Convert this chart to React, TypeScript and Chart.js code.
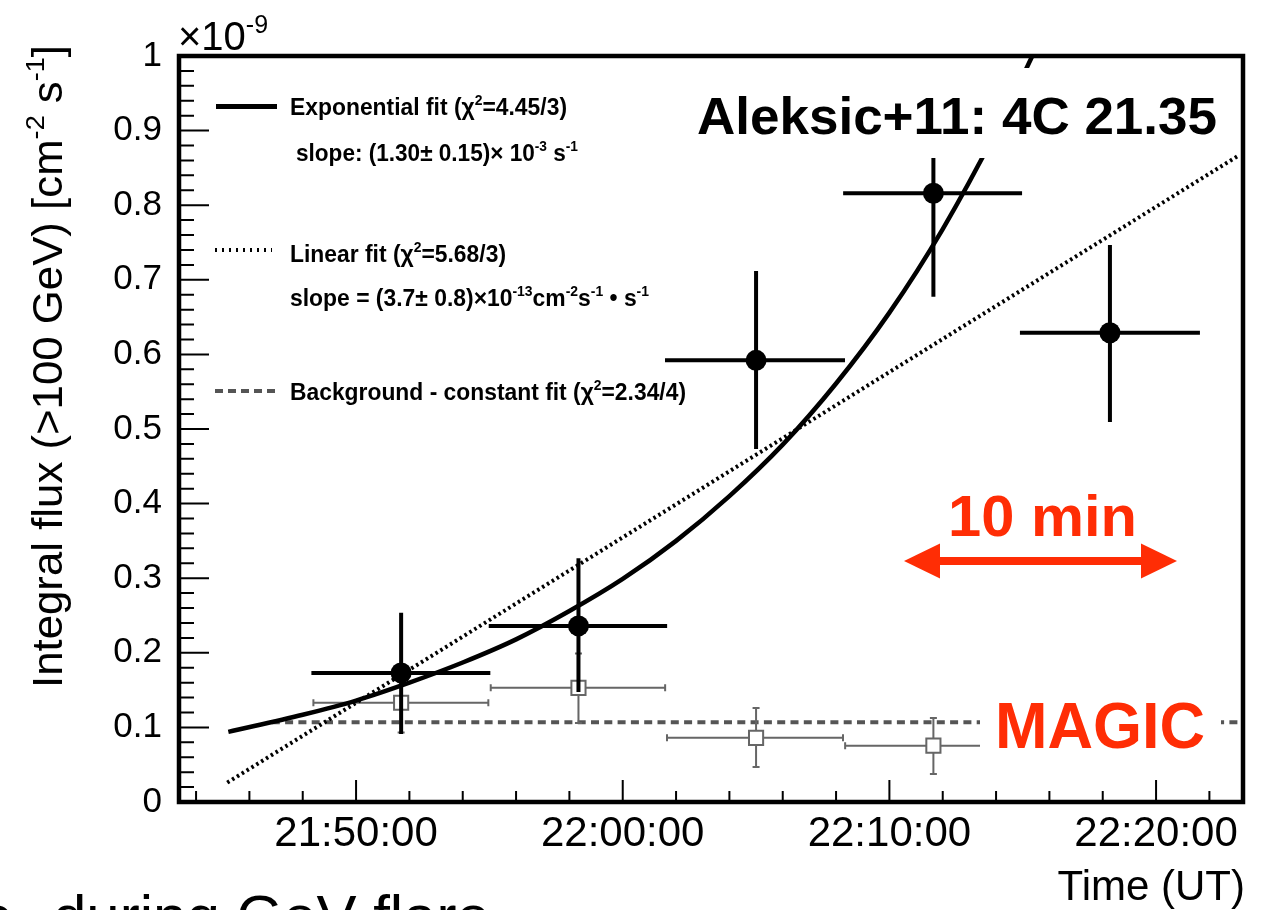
import React, { useEffect, useRef } from 'react';
import { Chart, registerables } from 'chart.js';

Chart.register(...registerables);

const FAMILY = '"Liberation Sans", Arial, Helvetica, sans-serif';
const RED = '#ff2d05';

// Time axis in minutes after 21:00:00 UT, flux in units of 1e-9 cm^-2 s^-1
const X_MIN = 43.36;
const X_MAX = 83.26;
const Y_MIN = 0;
const Y_MAX = 1;

const xMajorTicks = [50, 60, 70, 80];
const xTickLabels = ['21:50:00', '22:00:00', '22:10:00', '22:20:00'];
const yTickValues = [0, 0.1, 0.2, 0.3, 0.4, 0.5, 0.6, 0.7, 0.8, 0.9, 1];
const yTickLabels = ['0', '0.1', '0.2', '0.3', '0.4', '0.5', '0.6', '0.7', '0.8', '0.9', '1'];
const X_MINOR_STEP = 2;
const Y_MINOR_STEP = 0.02;

// MAGIC flux points (filled circles)
const fluxTimes = [51.69, 58.34, 65.0, 71.65, 78.27];
const fluxBinLow = [48.4, 55.05, 61.66, 68.34, 74.97];
const fluxBinHigh = [54.96, 61.59, 68.26, 74.9, 81.57];
const fluxValues = [0.173, 0.236, 0.592, 0.816, 0.629];
const fluxUpper = [0.251, 0.324, 0.709, 0.862, 0.744];
const fluxLower = [0.094, 0.15, 0.476, 0.68, 0.512];

// Background points (open squares)
const bkgTimes = [51.69, 58.34, 65.0, 71.65];
const bkgBinLow = [48.4, 55.05, 61.66, 68.34];
const bkgBinHigh = [54.96, 61.59, 68.26, 74.9];
const bkgValues = [0.133, 0.153, 0.086, 0.0755];
const bkgUpper = [0.173, 0.199, 0.126, 0.1126];
const bkgLower = [0.093, 0.106, 0.047, 0.0375];

// Fit curves
const expFitTimes = [45.21, 48, 50, 52, 54, 56, 58, 60, 62, 64, 66, 68, 70, 72, 74, 75.4];
const expFitValues = [0.094, 0.117, 0.136, 0.16, 0.187, 0.218, 0.256, 0.299, 0.35, 0.41, 0.479, 0.561, 0.656, 0.768, 0.899, 1.003];
const linFitTimes = [45.17, 83.07];
const linFitValues = [0.026, 0.866];
const constFitTimes = [46.84, 83.2];
const constFitValues = [0.107, 0.107];

type Seg = { t: string; sup?: boolean };

function drawRich(
  ctx: CanvasRenderingContext2D,
  segs: Seg[],
  x: number,
  y: number,
  size: number,
  weight: string,
  targetWidth?: number
) {
  const fMain = `${weight} ${size}px ${FAMILY}`;
  const fSup = `${weight} ${Math.round(size * 0.62)}px ${FAMILY}`;
  let w = 0;
  for (const s of segs) {
    ctx.font = s.sup ? fSup : fMain;
    w += ctx.measureText(s.t).width;
  }
  const sx = targetWidth ? targetWidth / w : 1;
  ctx.save();
  ctx.translate(x, y);
  ctx.scale(sx, 1);
  ctx.textAlign = 'left';
  ctx.textBaseline = 'alphabetic';
  let cx = 0;
  for (const s of segs) {
    ctx.font = s.sup ? fSup : fMain;
    ctx.fillText(s.t, cx, s.sup ? -size * 0.42 : 0);
    cx += ctx.measureText(s.t).width;
  }
  ctx.restore();
}

function drawBars(
  chart: any,
  times: number[],
  lo: number[],
  hi: number[],
  vals: number[],
  up: number[],
  dn: number[],
  color: string,
  width: number,
  cap: number
) {
  const { ctx, chartArea } = chart;
  const xs = chart.scales.x;
  const ys = chart.scales.y;
  ctx.save();
  ctx.beginPath();
  ctx.rect(chartArea.left, chartArea.top, chartArea.right - chartArea.left, chartArea.bottom - chartArea.top);
  ctx.clip();
  ctx.strokeStyle = color;
  ctx.lineWidth = width;
  ctx.lineCap = 'butt';
  for (let i = 0; i < times.length; i++) {
    const xc = xs.getPixelForValue(times[i]);
    const xl = xs.getPixelForValue(lo[i]);
    const xh = xs.getPixelForValue(hi[i]);
    const yc = ys.getPixelForValue(vals[i]);
    const yu = ys.getPixelForValue(up[i]);
    const yd = ys.getPixelForValue(dn[i]);
    ctx.beginPath();
    ctx.moveTo(xl, yc);
    ctx.lineTo(xh, yc);
    ctx.moveTo(xc, yu);
    ctx.lineTo(xc, yd);
    if (cap > 0) {
      ctx.moveTo(xl, yc - cap);
      ctx.lineTo(xl, yc + cap);
      ctx.moveTo(xh, yc - cap);
      ctx.lineTo(xh, yc + cap);
      ctx.moveTo(xc - cap, yu);
      ctx.lineTo(xc + cap, yu);
      ctx.moveTo(xc - cap, yd);
      ctx.lineTo(xc + cap, yd);
    }
    ctx.stroke();
  }
  ctx.restore();
}

const errorBarPlugin = {
  id: 'errorBars',
  beforeDatasetDraw(chart: any, args: any) {
    if (args.index === 2) {
      drawBars(chart, fluxTimes, fluxBinLow, fluxBinHigh, fluxValues, fluxUpper, fluxLower, '#000', 4, 2);
    } else if (args.index === 3) {
      drawBars(chart, bkgTimes, bkgBinLow, bkgBinHigh, bkgValues, bkgUpper, bkgLower, '#666', 2, 3.5);
    }
  },
};

const overlayPlugin = {
  id: 'overlay',
  afterDatasetsDraw(chart: any) {
    const ctx: CanvasRenderingContext2D = chart.ctx;
    ctx.save();
    // white boxes behind the labels
    ctx.fillStyle = '#fff';
    ctx.fillRect(690, 68, 535, 90);
    ctx.fillRect(980, 690, 241, 75);

    // title
    ctx.fillStyle = '#000';
    drawRich(ctx, [{ t: 'Aleksic+11: 4C 21.35' }], 697, 134, 52, 'bold', 520);

    // MAGIC label
    ctx.fillStyle = RED;
    drawRich(ctx, [{ t: 'MAGIC' }], 995, 748, 65, 'bold', 210);

    // 10 min label and arrow
    drawRich(ctx, [{ t: '10 min' }], 948, 536, 58, 'bold', 189);
    const ay = 561;
    ctx.fillRect(936, ay - 4, 210, 8);
    ctx.beginPath();
    ctx.moveTo(904, ay);
    ctx.lineTo(940, ay - 17.5);
    ctx.lineTo(940, ay + 17.5);
    ctx.closePath();
    ctx.fill();
    ctx.beginPath();
    ctx.moveTo(1177, ay);
    ctx.lineTo(1141, ay - 17.5);
    ctx.lineTo(1141, ay + 17.5);
    ctx.closePath();
    ctx.fill();

    // legend
    ctx.fillStyle = '#000';
    ctx.strokeStyle = '#000';
    ctx.lineWidth = 5;
    ctx.beginPath();
    ctx.moveTo(216, 106.5);
    ctx.lineTo(277, 106.5);
    ctx.stroke();
    drawRich(ctx, [{ t: 'Exponential fit (χ' }, { t: '2', sup: true }, { t: '=4.45/3)' }], 290, 115, 23, 'bold', 277);
    drawRich(
      ctx,
      [{ t: 'slope: (1.30± 0.15)× 10' }, { t: '-3', sup: true }, { t: ' s' }, { t: '-1', sup: true }],
      296,
      161,
      23,
      'bold',
      282
    );

    ctx.lineWidth = 4;
    ctx.setLineDash([2, 5]);
    ctx.beginPath();
    ctx.moveTo(215, 250);
    ctx.lineTo(272, 250);
    ctx.stroke();
    drawRich(ctx, [{ t: 'Linear fit (χ' }, { t: '2', sup: true }, { t: '=5.68/3)' }], 290, 262, 23, 'bold', 216);
    drawRich(
      ctx,
      [
        { t: 'slope = (3.7± 0.8)×10' },
        { t: '-13', sup: true },
        { t: 'cm' },
        { t: '-2', sup: true },
        { t: 's' },
        { t: '-1', sup: true },
        { t: ' • s' },
        { t: '-1', sup: true },
      ],
      290,
      306,
      23,
      'bold',
      359
    );

    ctx.strokeStyle = '#555';
    ctx.setLineDash([8, 5]);
    ctx.beginPath();
    ctx.moveTo(215, 391);
    ctx.lineTo(275, 391);
    ctx.stroke();
    ctx.setLineDash([]);
    drawRich(
      ctx,
      [{ t: 'Background - constant fit (χ' }, { t: '2', sup: true }, { t: '=2.34/4)' }],
      290,
      400,
      23,
      'bold',
      396
    );
    ctx.restore();
  },
  afterDraw(chart: any) {
    const ctx: CanvasRenderingContext2D = chart.ctx;
    const { left, right, top, bottom } = chart.chartArea;
    const xs = chart.scales.x;
    const ys = chart.scales.y;
    ctx.save();
    ctx.strokeStyle = '#000';
    // ticks
    ctx.lineWidth = 2;
    ctx.beginPath();
    for (let v = Y_MIN; v <= Y_MAX + 1e-9; v += Y_MINOR_STEP) {
      const py = ys.getPixelForValue(v);
      const isMajor = Math.abs(v * 10 - Math.round(v * 10)) < 1e-6;
      ctx.moveTo(left, py);
      ctx.lineTo(left + (isMajor ? 30 : 15), py);
    }
    const firstMinor = Math.ceil(X_MIN / X_MINOR_STEP) * X_MINOR_STEP;
    for (let v = firstMinor; v <= X_MAX; v += X_MINOR_STEP) {
      const px = xs.getPixelForValue(v);
      const isMajor = v % 10 === 0;
      ctx.moveTo(px, bottom);
      ctx.lineTo(px, bottom - (isMajor ? 22 : 11));
    }
    ctx.stroke();
    // frame
    ctx.lineWidth = 4.5;
    ctx.strokeRect(left, top, right - left, bottom - top);

    // exponent
    ctx.fillStyle = '#000';
    drawRich(ctx, [{ t: '×10' }, { t: '-9', sup: true }], 178, 50, 40, 'normal');

    // axis titles
    ctx.save();
    ctx.translate(62, 688);
    ctx.rotate(-Math.PI / 2);
    drawRich(
      ctx,
      [{ t: 'Integral flux (>100 GeV) [cm' }, { t: '-2', sup: true }, { t: ' s' }, { t: '-1', sup: true }, { t: ']' }],
      0,
      0,
      42,
      'normal',
      643
    );
    ctx.restore();

    ctx.font = `42px ${FAMILY}`;
    ctx.textAlign = 'right';
    ctx.textBaseline = 'alphabetic';
    ctx.fillText('Time (UT)', 1245, 900);

    // slide text cut by the picture edge
    ctx.font = `60px ${FAMILY}`;
    ctx.textAlign = 'right';
    ctx.fillText('curve', 13, 937);
    ctx.textAlign = 'left';
    ctx.fillText('during GeV flare', 53, 937);
    ctx.restore();
  },
};

export default function App() {
  const ref = useRef<HTMLCanvasElement>(null);
  useEffect(() => {
    const canvas = ref.current;
    if (!canvas) return;
    const chart = new Chart(canvas, {
      type: 'scatter',
      data: {
        datasets: [
          {
            label: 'Exponential fit',
            data: expFitTimes.map((t, i) => ({ x: t, y: expFitValues[i] })),
            showLine: true,
            borderColor: '#000',
            borderWidth: 4.5,
            pointRadius: 0,
            pointHoverRadius: 0,
            cubicInterpolationMode: 'monotone',
          },
          {
            label: 'Linear fit',
            data: linFitTimes.map((t, i) => ({ x: t, y: linFitValues[i] })),
            showLine: true,
            borderColor: '#000',
            borderWidth: 4,
            borderDash: [2.5, 3.2],
            pointRadius: 0,
            pointHoverRadius: 0,
          },
          {
            label: 'Integral flux',
            data: fluxTimes.map((t, i) => ({ x: t, y: fluxValues[i] })),
            pointStyle: 'circle',
            pointRadius: 10.5,
            pointHoverRadius: 10.5,
            backgroundColor: '#000',
            borderWidth: 0,
          },
          {
            label: 'Background',
            data: bkgTimes.map((t, i) => ({ x: t, y: bkgValues[i] })),
            pointStyle: 'rect',
            pointRadius: 10,
            pointHoverRadius: 10,
            backgroundColor: '#fff',
            borderColor: '#666',
            borderWidth: 2,
          },
          {
            label: 'Background - constant fit',
            data: constFitTimes.map((t, i) => ({ x: t, y: constFitValues[i] })),
            showLine: true,
            borderColor: '#555',
            borderWidth: 4,
            borderDash: [8, 5.3],
            pointRadius: 0,
            pointHoverRadius: 0,
          },
        ],
      },
      options: {
        responsive: false,
        animation: false,
        devicePixelRatio: 1,
        events: [],
        layout: { padding: { left: 0, top: 56, right: 29, bottom: 0 } },
        plugins: { legend: { display: false }, tooltip: { enabled: false } },
        scales: {
          x: {
            type: 'linear',
            min: X_MIN,
            max: X_MAX,
            grid: { display: false, drawTicks: false },
            border: { display: false },
            afterBuildTicks: (axis: any) => {
              axis.ticks = xMajorTicks.map((v) => ({ value: v }));
            },
            afterFit: (axis: any) => {
              axis.height = 108;
            },
            ticks: {
              autoSkip: false,
              maxRotation: 0,
              padding: 7,
              color: '#000',
              font: { family: FAMILY, size: 42 },
              callback: (value: any) => xTickLabels[xMajorTicks.indexOf(Number(value))] ?? '',
            },
          },
          y: {
            type: 'linear',
            min: Y_MIN,
            max: Y_MAX,
            grid: { display: false, drawTicks: false },
            border: { display: false },
            afterBuildTicks: (axis: any) => {
              axis.ticks = yTickValues.map((v) => ({ value: v }));
            },
            afterFit: (axis: any) => {
              axis.width = 179;
            },
            ticks: {
              autoSkip: false,
              padding: 17,
              color: '#000',
              font: { family: FAMILY, size: 35 },
              callback: (_v: any, i: number) => yTickLabels[i],
            },
          },
        },
      },
      plugins: [errorBarPlugin, overlayPlugin],
    } as any);
    return () => chart.destroy();
  }, []);
  return (
    <div style={{ position: 'fixed', left: 0, top: 0, width: 1272, height: 910, background: '#fff' }}>
      <canvas ref={ref} width={1272} height={910} style={{ display: 'block', width: 1272, height: 910 }} />
    </div>
  );
}
